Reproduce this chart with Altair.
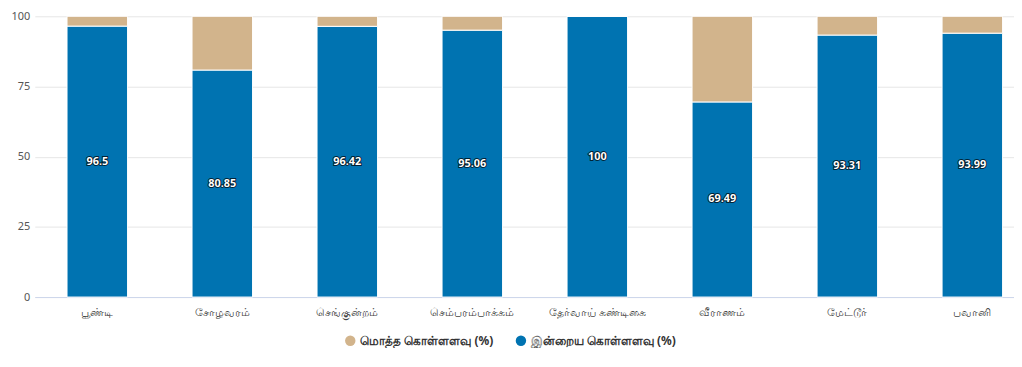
import altair as alt
import pandas as pd

categories = ["பூண்டி", "சோழவரம்", "செங்குன்றம்", "செம்பரம்பாக்கம்", "தேர்வாய் கண்டிகை", "வீராணம்", "மேட்டூர்", "பவானி"]
current_pct = [96.5, 80.85, 96.42, 95.06, 100, 69.49, 93.31, 93.99]
series_names = ["மொத்த கொள்ளளவு (%)", "இன்றைய கொள்ளளவு (%)"]
series_colors = ["#D2B48C", "#0073B1"]
y_ticks = [0, 25, 50, 75, 100]

rows = []
for c, v in zip(categories, current_pct):
    rows.append({"cat": c, "series": series_names[1], "val": v, "ord": 0, "label": f"{v:g}", "mid": v / 2})
    rows.append({"cat": c, "series": series_names[0], "val": round(100 - v, 2), "ord": 1, "label": "", "mid": None})
df = pd.DataFrame(rows)

FONT = "Noto Sans"

base = alt.Chart(df)
xscale = alt.Scale(paddingInner=0.52, paddingOuter=0.26)

bars = base.mark_bar(stroke="white", strokeWidth=1, size=61).encode(
    x=alt.X("cat:N", sort=categories, title=None, scale=xscale,
            axis=alt.Axis(labelAngle=0, labelColor="#444", labelFontSize=11, labelFont=FONT,
                          domainColor="#ccd6eb", ticks=False, labelPadding=10, grid=False)),
    y=alt.Y("val:Q", stack="zero", title=None,
            scale=alt.Scale(domain=[0, 100], nice=False),
            axis=alt.Axis(values=y_ticks, domain=False, ticks=False, labelColor="#555",
                          labelFontSize=11, labelFont=FONT, labelPadding=5, gridColor="#e6e6e6")),
    color=alt.Color("series:N", scale=alt.Scale(domain=series_names, range=series_colors),
                    legend=alt.Legend(title=None, orient="none", legendX=312, legendY=321,
                                      direction="horizontal", symbolType="circle", symbolSize=110,
                                      symbolStrokeWidth=0, labelFontSize=12, labelFont=FONT,
                                      labelFontWeight="bold", labelColor="#333", columnPadding=22,
                                      symbolOpacity=1)),
    order=alt.Order("ord:Q"),
)

lab = base.transform_filter("datum.ord == 0")
outline = lab.mark_text(fontSize=11, fontWeight="bold", font=FONT, color="black", stroke="black",
                        strokeWidth=2, strokeOpacity=0.7).encode(
    x=alt.X("cat:N", sort=categories, scale=xscale), y=alt.Y("mid:Q"), text="label:N")
text = lab.mark_text(fontSize=11, fontWeight="bold", font=FONT, color="white").encode(
    x=alt.X("cat:N", sort=categories, scale=xscale), y=alt.Y("mid:Q"), text="label:N")

chart = alt.layer(bars, outline, text).properties(
    width=1008, height=283,
    autosize=alt.AutoSizeParams(type="none"),
    padding={"left": 27, "top": 7, "right": -21, "bottom": 50},
).configure_view(stroke=None)

chart.save("out.html", embed_options={"renderer": "svg", "actions": False})
